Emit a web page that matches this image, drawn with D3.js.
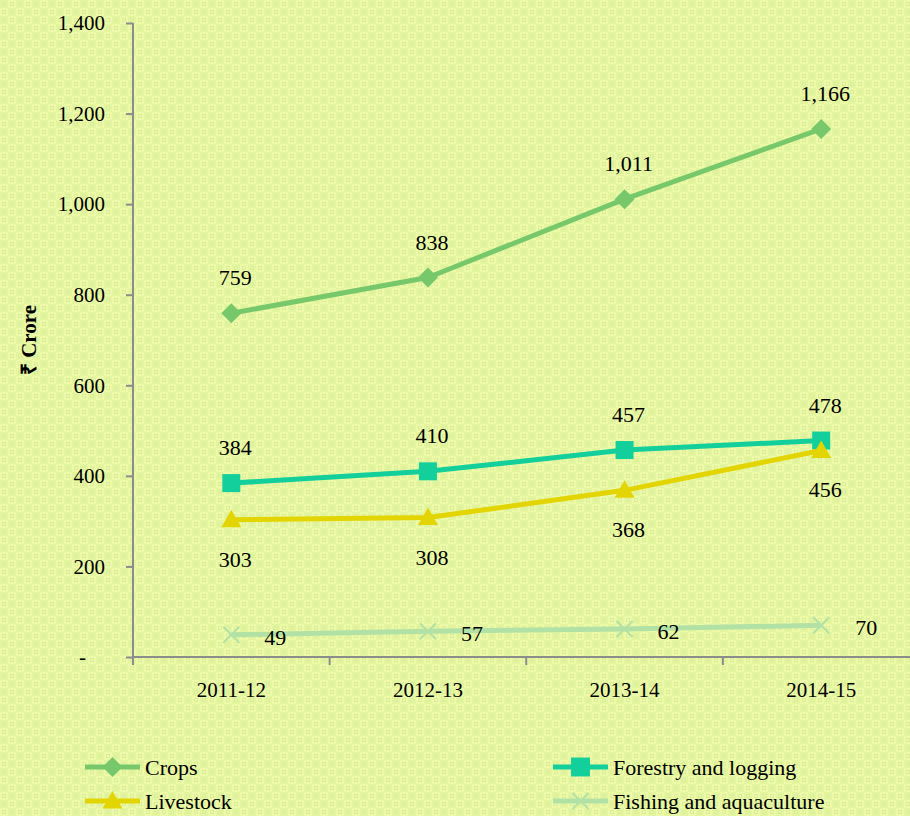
<!DOCTYPE html>
<html><head><meta charset="utf-8">
<script src="https://cdn.jsdelivr.net/npm/d3@7"></script>
<style>body{margin:0;background:#e9f8a2;}svg{display:block;}</style>
</head><body>
<svg id="c" width="910" height="816"></svg>
<script>
const categories = ["2011-12","2012-13","2013-14","2014-15"];
const crops = [759, 838, 1011, 1166];
const forestry = [384, 410, 457, 478];
const livestock = [303, 308, 368, 456];
const fishing = [49, 57, 62, 70];
const seriesNames = ["Crops","Forestry and logging","Livestock","Fishing and aquaculture"];
const yTicks = [0,200,400,600,800,1000,1200,1400];

const svg = d3.select("#c");
const FONT = "Liberation Serif";
const defs = svg.append("defs");
const pat = defs.append("pattern").attr("id","bg").attr("patternUnits","userSpaceOnUse")
  .attr("width",16).attr("height",16);
pat.append("rect").attr("width",16).attr("height",16).attr("fill","#ecfaa8");
[[0,0],[8,8]].forEach(([x,y])=>{
  pat.append("rect").attr("x",x).attr("y",y).attr("width",8).attr("height",8).attr("fill","#e4f5a0");
});
[[0,0],[8,8],[8,0],[0,8]].forEach(([x,y])=>{
  pat.append("rect").attr("x",x+2.5).attr("y",y+2.5).attr("width",3).attr("height",3)
    .attr("fill","none").attr("stroke","#dcee9c").attr("stroke-width",1);
});
svg.append("rect").attr("width",910).attr("height",816).attr("fill","url(#bg)");

const x = d3.scaleBand().domain(categories).range([133, 919.5]);
const y = d3.scaleLinear().domain([0,1400]).range([657, 23]);

// Y axis
const ya = svg.append("g").attr("transform","translate(133,0)")
  .call(d3.axisLeft(y).tickValues(yTicks).tickSize(7).tickPadding(21)
    .tickFormat(d => d===0 ? "-" : d3.format(",")(d)));
ya.attr("font-family",null).attr("font-size",21);
ya.selectAll("path,line").attr("stroke","#8c8c8c").attr("stroke-width",2);
ya.select(".domain").attr("d","M0,23V657");
ya.selectAll("text").style("font-family",FONT).style("font-size","21px").attr("fill","#000");
ya.selectAll(".tick").filter(d=>d===0).select("text").attr("dx",-19);

// X axis
const xa = svg.append("g").attr("transform","translate(0,657)")
  .call(d3.axisBottom(x).tickSize(0).tickPadding(20));
xa.attr("font-family",null).attr("font-size",21);
xa.select(".domain").attr("stroke","#8c8c8c").attr("stroke-width",2).attr("d","M133,0H919.5");
xa.selectAll("text").style("font-family",FONT).style("font-size","21px").attr("fill","#000").attr("dy","0.95em");
const bounds = categories.map(c=>x(c)).concat([x.range()[1]]);
svg.append("g").selectAll("line").data(bounds).join("line")
  .attr("x1",d=>d).attr("x2",d=>d).attr("y1",657).attr("y2",665)
  .attr("stroke","#8c8c8c").attr("stroke-width",2);

// Y label
svg.append("text").attr("transform","translate(36,340) rotate(-90)")
  .attr("text-anchor","middle").style("font-family",FONT).style("font-size","21px")
  .attr("font-weight","bold").text("₹ Crore");

const cx = c => x(c) + x.bandwidth()/2;
const line = d3.line().x((d,i)=>cx(categories[i])).y(d=>y(d));

const series = [
  {name:seriesNames[0], data:crops, color:"#77c86b", marker:"diamond", pos:"above"},
  {name:seriesNames[1], data:forestry, color:"#13cf9b", marker:"square", pos:"above"},
  {name:seriesNames[2], data:livestock, color:"#e2d503", marker:"triangle", pos:"below"},
  {name:seriesNames[3], data:fishing, color:"#b2e1a6", marker:"x", pos:"right"}
];

function drawMarker(g, type, color, px, py, scale=1){
  if(type==="diamond"){
    const s=10*scale;
    g.append("path").attr("d",`M${px},${py-s}L${px+s},${py}L${px},${py+s}L${px-s},${py}Z`).attr("fill",color);
  } else if(type==="square"){
    const s=9*scale;
    g.append("rect").attr("x",px-s).attr("y",py-s).attr("width",2*s).attr("height",2*s).attr("fill",color);
  } else if(type==="triangle"){
    const s=10*scale;
    g.append("path").attr("d",`M${px},${py-s}L${px+s},${py+s*0.75}L${px-s},${py+s*0.75}Z`).attr("fill",color);
  } else {
    const s=8*scale;
    g.append("path").attr("d",`M${px-s},${py-s}L${px+s},${py+s}M${px+s},${py-s}L${px-s},${py+s}`)
      .attr("stroke",color).attr("stroke-width",2).attr("fill","none");
  }
}

const fmt = d3.format(",");
series.forEach(s=>{
  const g = svg.append("g");
  g.append("path").datum(s.data).attr("d",line).attr("fill","none")
    .attr("stroke",s.color).attr("stroke-width",5).attr("stroke-linejoin","round");
  s.data.forEach((v,i)=>{
    const px = cx(categories[i]), py = y(v);
    drawMarker(g, s.marker, s.color, px, py);
    const t = g.append("text").style("font-family",FONT).style("font-size","22px").attr("fill","#000").text(fmt(v));
    if(s.pos==="above") t.attr("x",px+4).attr("y",py-28).attr("text-anchor","middle");
    else if(s.pos==="below") t.attr("x",px+4).attr("y",py+47).attr("text-anchor","middle");
    else t.attr("x",px+(i===3?34:33)).attr("y",py+10).attr("text-anchor","start");
  });
});

// Legend
const legendPos = [[85,767],[553,767],[85,801],[553,801]];
series.forEach((s,i)=>{
  const [lx,ly] = legendPos[i];
  const g = svg.append("g");
  g.append("line").attr("x1",lx).attr("x2",lx+55).attr("y1",ly).attr("y2",ly)
    .attr("stroke",s.color).attr("stroke-width",5);
  drawMarker(g, s.marker, s.color, lx+27.5, ly, s.marker==="square"?1.05:1);
  g.append("text").attr("x",lx+60).attr("y",ly+8).style("font-family",FONT).style("font-size","22px")
    .attr("fill","#000").text(s.name);
});
</script>
</body></html>
